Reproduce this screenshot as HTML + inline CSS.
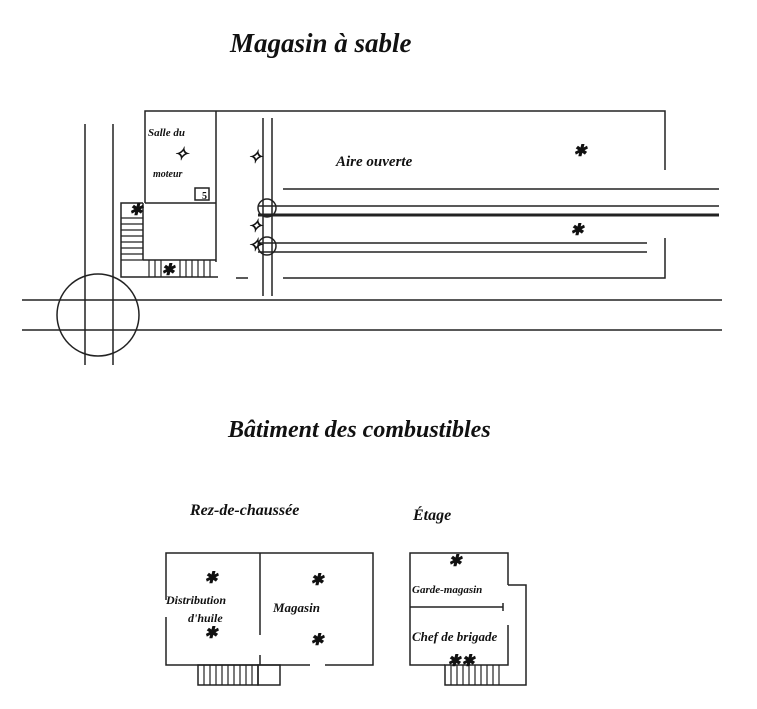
<!DOCTYPE html>
<html><head><meta charset="utf-8"><style>
html,body{margin:0;padding:0;background:#fff;}
svg{display:block}
text{font-family:"Liberation Serif",serif;font-style:italic;font-weight:bold;fill:#111}
</style></head><body>
<svg width="757" height="709" viewBox="0 0 757 709" xmlns="http://www.w3.org/2000/svg">
<g stroke="#222" stroke-width="1.5" fill="none">
<!-- roads -->
<line x1="22" y1="300" x2="722" y2="300"/>
<line x1="22" y1="330" x2="722" y2="330"/>
<line x1="85" y1="124" x2="85" y2="365"/>
<line x1="113" y1="124" x2="113" y2="365"/>
<circle cx="98" cy="315" r="41"/>
<!-- main outline -->
<polyline points="145,203 145,111 665,111 665,170"/>
<line x1="216" y1="111" x2="216" y2="262"/>
<line x1="145" y1="203" x2="216" y2="203"/>
<polyline points="143,203 121,203 121,277 218,277"/>
<line x1="143" y1="203" x2="143" y2="260"/>
<line x1="143" y1="260" x2="216" y2="260"/>
<rect x="195" y="188" width="14" height="12"/>
<line x1="236" y1="278" x2="248" y2="278"/>
<!-- vertical rails -->
<line x1="263" y1="118" x2="263" y2="296"/>
<line x1="272" y1="118" x2="272" y2="296"/>
<circle cx="267" cy="208" r="9"/>
<circle cx="267" cy="246" r="9"/>
<!-- horizontal lines -->
<line x1="283" y1="189" x2="719" y2="189"/>
<line x1="258" y1="206" x2="719" y2="206"/>
<line x1="258" y1="215" x2="719" y2="215" stroke-width="3"/>
<line x1="258" y1="243" x2="647" y2="243"/>
<line x1="258" y1="252" x2="647" y2="252"/>
<polyline points="283,278 665,278 665,238"/>
<!-- stairs -->
<g stroke-width="1.2">
<line x1="121" y1="218" x2="143" y2="218"/><line x1="121" y1="224" x2="143" y2="224"/>
<line x1="121" y1="230" x2="143" y2="230"/><line x1="121" y1="236" x2="143" y2="236"/>
<line x1="121" y1="242" x2="143" y2="242"/><line x1="121" y1="248" x2="143" y2="248"/>
<line x1="121" y1="254" x2="143" y2="254"/><line x1="121" y1="260" x2="143" y2="260"/>
<line x1="149" y1="260" x2="149" y2="277"/><line x1="155" y1="260" x2="155" y2="277"/>
<line x1="161" y1="260" x2="161" y2="277"/><line x1="180" y1="260" x2="180" y2="277"/>
<line x1="186" y1="260" x2="186" y2="277"/><line x1="192" y1="260" x2="192" y2="277"/>
<line x1="198" y1="260" x2="198" y2="277"/><line x1="204" y1="260" x2="204" y2="277"/>
<line x1="210" y1="260" x2="210" y2="277"/>
</g>
<!-- lower: rez-de-chaussée -->
<polyline points="166,600 166,553 373,553 373,665 325,665"/>
<polyline points="310,665 166,665 166,617"/>
<line x1="260" y1="553" x2="260" y2="635"/>
<line x1="260" y1="655" x2="260" y2="665"/>
<rect x="198" y="665" width="60" height="20"/>
<rect x="258" y="665" width="22" height="20"/>
<g stroke-width="1.2">
<line x1="204" y1="665" x2="204" y2="685"/><line x1="210" y1="665" x2="210" y2="685"/>
<line x1="216" y1="665" x2="216" y2="685"/><line x1="222" y1="665" x2="222" y2="685"/>
<line x1="228" y1="665" x2="228" y2="685"/><line x1="234" y1="665" x2="234" y2="685"/>
<line x1="240" y1="665" x2="240" y2="685"/><line x1="246" y1="665" x2="246" y2="685"/>
<line x1="252" y1="665" x2="252" y2="685"/>
</g>
<!-- étage -->
<polyline points="508,585 508,553 410,553 410,665 445,665"/>
<polyline points="508,585 526,585 526,685 445,685 445,665 508,665 508,625"/>
<line x1="410" y1="607" x2="503" y2="607"/>
<line x1="503" y1="603" x2="503" y2="611"/>
<g stroke-width="1.2">
<line x1="451" y1="665" x2="451" y2="685"/><line x1="457" y1="665" x2="457" y2="685"/>
<line x1="463" y1="665" x2="463" y2="685"/><line x1="469" y1="665" x2="469" y2="685"/>
<line x1="475" y1="665" x2="475" y2="685"/><line x1="481" y1="665" x2="481" y2="685"/>
<line x1="487" y1="665" x2="487" y2="685"/><line x1="493" y1="665" x2="493" y2="685"/>
<line x1="499" y1="665" x2="499" y2="685"/>
</g>
</g>
<!-- symbols -->
<g font-size="18" text-anchor="middle" style="font-style:normal">
<text x="181" y="160">✧</text>
<text x="255" y="163">✧</text>
<text x="255" y="232">✧</text>
<text x="255" y="251">✧</text>
</g>
<g font-size="16" text-anchor="middle" style="font-style:normal">
<text x="580" y="156">✱</text>
<text x="577" y="235">✱</text>
<text x="136" y="215">✱</text>
<text x="168" y="275">✱</text>
<text x="211" y="583">✱</text>
<text x="211" y="638">✱</text>
<text x="317" y="585">✱</text>
<text x="317" y="645">✱</text>
<text x="455" y="566">✱</text>
<text x="454" y="666">✱</text>
<text x="468" y="666">✱</text>
</g>
<text x="202" y="199" font-size="10" style="font-style:normal">5</text>
<!-- labels -->
<text x="230" y="52" font-size="27">Magasin à sable</text>
<text x="148" y="136" font-size="11">Salle du</text>
<text x="153" y="177" font-size="10">moteur</text>
<text x="336" y="166" font-size="15">Aire ouverte</text>
<text x="228" y="437" font-size="24">Bâtiment des combustibles</text>
<text x="190" y="515" font-size="16">Rez-de-chaussée</text>
<text x="413" y="520" font-size="16">Étage</text>
<text x="166" y="604" font-size="12">Distribution</text>
<text x="188" y="622" font-size="12">d'huile</text>
<text x="273" y="612" font-size="13">Magasin</text>
<text x="412" y="593" font-size="11">Garde-magasin</text>
<text x="412" y="641" font-size="13">Chef de brigade</text>
</svg>
</body></html>
